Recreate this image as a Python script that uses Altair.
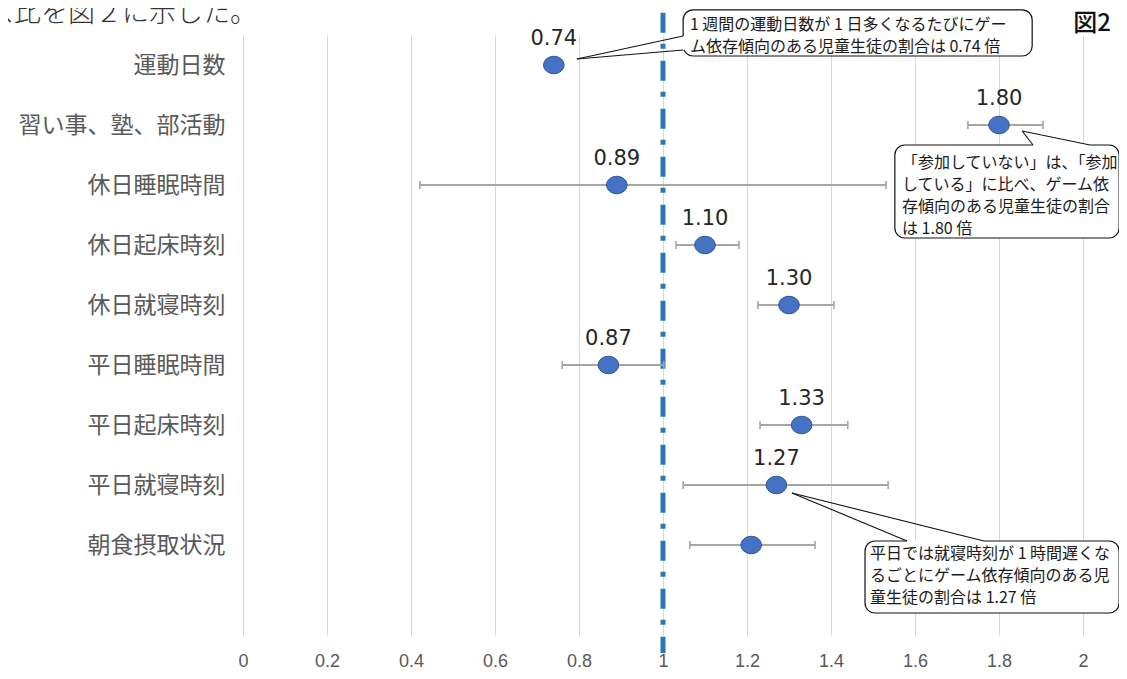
import altair as alt
import pandas as pd

# ---------------- data ----------------
categories = ["運動日数", "習い事、塾、部活動", "休日睡眠時間", "休日起床時刻", "休日就寝時刻",
              "平日睡眠時間", "平日起床時刻", "平日就寝時刻", "朝食摂取状況"]
odds_ratio = [0.74, 1.80, 0.89, 1.10, 1.30, 0.87, 1.33, 1.27, 1.21]
ci_lower = [None, 1.726, 0.421, 1.031, 1.226, 0.760, 1.231, 1.048, 1.064]
ci_upper = [None, 1.905, 1.531, 1.181, 1.407, 1.002, 1.440, 1.536, 1.362]
value_labels = ["0.74", "1.80", "0.89", "1.10", "1.30", "0.87", "1.33", "1.27", ""]
x_ticks = [0, 0.2, 0.4, 0.6, 0.8, 1.0, 1.2, 1.4, 1.6, 1.8, 2.0]
reference_value = [1.0]

callout_texts = [
    ["1 週間の運動日数が 1 日多くなるたびにゲー", "ム依存傾向のある児童生徒の割合は 0.74 倍"],
    ["「参加していない」は、「参加", "している」に比べ、ゲーム依", "存傾向のある児童生徒の割合", "は 1.80 倍"],
    ["平日では就寝時刻が 1 時間遅くな", "るごとにゲーム依存傾向のある児", "童生徒の割合は 1.27 倍"],
]
page_text = "ス比を図２に示した。"
figure_label = "図2"

# ---------------- annotation geometry (data units) ----------------
box_x = [1.048, 1.552, 1.481]
box_x2 = [1.879, 2.086, 2.086]
box_y = [-0.92, 1.333, 7.933]
box_y2 = [-0.15, 2.883, 9.133]
text_x = [1.064, 1.569, 1.493]
text_y0 = [-0.67, 1.633, 8.15]
line_step = 0.367
tip_x = [0.795, 1.855, 1.307]
tip_y = [-0.10, 1.10, 7.133]
base1 = [(1.048, -0.483), (1.881, 1.333), (1.581, 7.933)]
base2 = [(1.048, -0.25), (2.017, 1.333), (1.764, 7.933)]

# ---------------- frames ----------------
rows = list(range(len(categories)))
df = pd.DataFrame({"row": rows, "cat": categories, "or": odds_ratio,
                   "lo": ci_lower, "hi": ci_upper, "lab": value_labels})
df_ci = df.dropna(subset=["lo"])
caps = pd.DataFrame({"row": list(df_ci["row"]) * 2,
                     "x": list(df_ci["lo"]) + list(df_ci["hi"])})
df_lab = df[df["lab"] != ""]

boxes = pd.DataFrame({"x": box_x, "x2": box_x2, "y": box_y, "y2": box_y2})
wedges = pd.DataFrame({
    "x": tip_x * 2, "y": tip_y * 2,
    "x2": [b[0] for b in base1] + [b[0] for b in base2],
    "y2": [b[1] for b in base1] + [b[1] for b in base2],
})
erasers = pd.DataFrame({
    "x": [b[0] for b in base1], "y": [b[1] for b in base1],
    "x2": [b[0] for b in base2], "y2": [b[1] for b in base2],
})
trows = []
for i, lines in enumerate(callout_texts):
    for j, t in enumerate(lines):
        trows.append({"x": text_x[i], "y": text_y0[i] + j * line_step, "t": t})
ctext = pd.DataFrame(trows)
refline = pd.DataFrame({"x": reference_value, "y": [-0.87], "y2": [9.8]})

# ---------------- scales / axes ----------------
xscale = alt.Scale(domain=[0, 2], nice=False, zero=False)
yscale = alt.Scale(domain=[-0.5, 9.5], reverse=True, nice=False, zero=False)
label_expr = "[" + ",".join(f"'{c}'" for c in categories) + "][datum.value]"
xaxis = alt.Axis(values=x_ticks, format="~g", title=None, grid=True, gridColor="#D9D9D9",
                 gridWidth=1, domain=False, ticks=False, labelFont="Liberation Sans",
                 labelFontSize=18, labelColor="#595959", labelPadding=26,
                 labelBaseline="middle", labelFlush=False, labelOverlap=False)
yaxis = alt.Axis(values=rows, labelExpr=label_expr, title=None, grid=False, domain=False,
                 ticks=False, labelFont="Noto Sans CJK JP", labelFontSize=23,
                 labelColor="#595959", labelPadding=18, labelFlush=False, labelOverlap=False,
                 labelLimit=0)


def X(f):
    return alt.X(f, type="quantitative", scale=xscale, axis=xaxis)


def Y(f):
    return alt.Y(f, type="quantitative", scale=yscale, axis=yaxis)


ref = alt.Chart(refline).mark_rule(color="#2E75B6", strokeWidth=5,
                                   strokeDash=[20, 11, 5, 12]).encode(
    x=X("x"), y=Y("y"), y2="y2")

bars = alt.Chart(df_ci).mark_rule(color="#A6A6A6", strokeWidth=1.8).encode(
    x=X("lo"), x2="hi", y=Y("row"))

cap_marks = alt.Chart(caps).mark_tick(orient="vertical", color="#A6A6A6", size=8,
                                      thickness=1.6, opacity=1).encode(
    x=X("x"), y=Y("row"))

ellipse = "M -1 0 A 1 0.85 0 1 1 1 0 A 1 0.85 0 1 1 -1 0 Z"
points = alt.Chart(df).mark_point(shape=ellipse, filled=True, size=420, fill="#4472C4",
                                  stroke="#2F528F", strokeWidth=1, opacity=1).encode(
    x=X("or"), y=Y("row"))

labels = alt.Chart(df_lab).mark_text(dy=-26, fontSize=21, font="DejaVu Sans",
                                     color="#262626").encode(
    x=X("or"), y=Y("row"), text="lab:N")

box_marks = alt.Chart(boxes).mark_rect(fill="white", stroke="#111111", strokeWidth=1.2,
                                       cornerRadius=10).encode(
    x=X("x"), x2="x2", y=Y("y"), y2="y2")

erase_marks = alt.Chart(erasers).mark_rule(color="white", strokeWidth=3).encode(
    x=X("x"), x2="x2", y=Y("y"), y2="y2")

wedge_marks = alt.Chart(wedges).mark_rule(color="#111111", strokeWidth=1.1).encode(
    x=X("x"), x2="x2", y=Y("y"), y2="y2")

text_marks = alt.Chart(ctext).mark_text(align="left", baseline="middle", fontSize=16,
                                        font="Noto Sans CJK JP", color="#1a1a1a").encode(
    x=X("x"), y=Y("y"), text="t:N")

page_txt = alt.Chart(pd.DataFrame({"t": [page_text]})).mark_text(
    align="right", baseline="alphabetic", fontSize=27, font="Noto Sans CJK JP",
    fontWeight=300, color="#333333").encode(
    x=alt.value(14), y=alt.value(-13), text="t:N")

fig_txt = alt.Chart(pd.DataFrame({"t": [figure_label]})).mark_text(
    align="right", baseline="middle", fontSize=24, font="Noto Sans CJK JP",
    fontWeight=500, color="#111111").encode(
    x=alt.value(868), y=alt.value(-11), text="t:N")

chart = alt.layer(
    ref, bars, cap_marks, points, labels, box_marks, erase_marks, wedge_marks,
    text_marks, page_txt, fig_txt
).properties(
    width=840, height=600,
    autosize=alt.AutoSizeParams(type="none"),
    padding={"left": 235, "top": 27, "right": 36, "bottom": 36},
).configure_view(stroke=None)

chart.save("out.html", embed_options={"renderer": "svg", "actions": False})
